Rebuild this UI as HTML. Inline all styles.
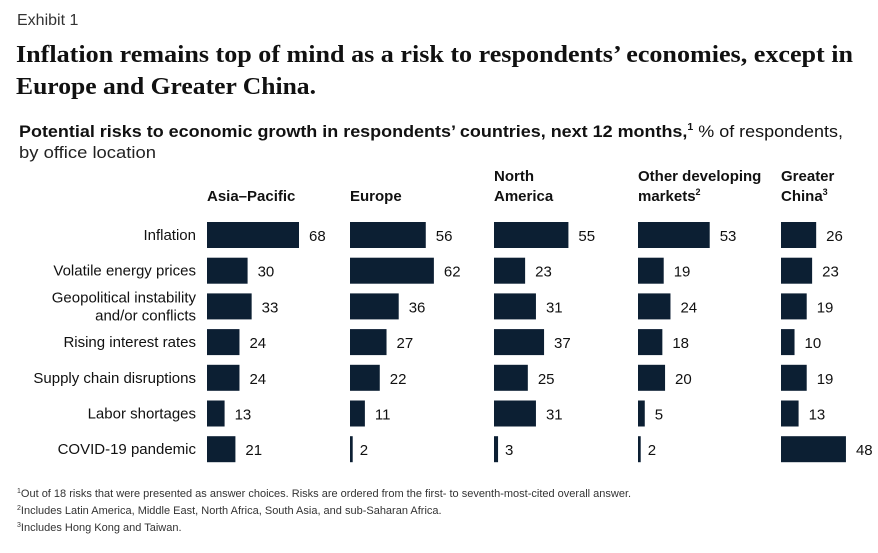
<!DOCTYPE html>
<html><head><meta charset="utf-8"><style>
body{margin:0;background:#fff;}
svg{display:block;font-family:"Liberation Sans",sans-serif;}
</style></head><body>
<svg id="chart" width="878" height="553" viewBox="0 0 878 553">
<text x="17" y="25" font-size="16" fill="#333">Exhibit 1</text>
<text x="16" y="62" font-size="24" font-weight="bold" font-family="Liberation Serif,serif" fill="#111" textLength="837" lengthAdjust="spacingAndGlyphs">Inflation remains top of mind as a risk to respondents’ economies, except in</text>
<text x="16" y="94" font-size="24" font-weight="bold" font-family="Liberation Serif,serif" fill="#111" textLength="300" lengthAdjust="spacingAndGlyphs">Europe and Greater China.</text>
<text x="19" y="137" font-size="17" fill="#111" textLength="824" lengthAdjust="spacingAndGlyphs"><tspan font-weight="bold">Potential risks to economic growth in respondents’ countries, next 12 months,</tspan><tspan font-size="10" dy="-7" font-weight="bold">1</tspan><tspan dy="7"> % of respondents,</tspan></text>
<text x="19" y="158" font-size="17" fill="#222" textLength="137" lengthAdjust="spacingAndGlyphs">by office location</text>
<g id="plot"></g>
<text x="17" y="497" font-size="11" fill="#333"><tspan font-size="7" dy="-4">1</tspan><tspan dy="4">Out of 18 risks that were presented as answer choices. Risks are ordered from the first- to seventh-most-cited overall answer.</tspan></text>
<text x="17" y="514" font-size="11" fill="#333"><tspan font-size="7" dy="-4">2</tspan><tspan dy="4">Includes Latin America, Middle East, North Africa, South Asia, and sub-Saharan Africa.</tspan></text>
<text x="17" y="531" font-size="11" fill="#333"><tspan font-size="7" dy="-4">3</tspan><tspan dy="4">Includes Hong Kong and Taiwan.</tspan></text>
</svg>
<script>
const categories = ["Inflation","Volatile energy prices","Geopolitical instability|and/or conflicts","Rising interest rates","Supply chain disruptions","Labor shortages","COVID-19 pandemic"];
const regions = ["Asia–Pacific","Europe","North|America","Other developing|markets","Greater|China"];
const regionSup = ["","","","2","3"];
const asiaPacific = [68,30,33,24,24,13,21];
const europe = [56,62,36,27,22,11,2];
const northAmerica = [55,23,31,37,25,31,3];
const otherDeveloping = [53,19,24,18,20,5,2];
const greaterChina = [26,23,19,10,19,13,48];
const series = [asiaPacific,europe,northAmerica,otherDeveloping,greaterChina];

const NS="http://www.w3.org/2000/svg";
const g=document.getElementById('plot');
const colX=[207,350,494,638,781];
const xs=v=>v*1.353;
const rowY=i=>235+i*35.7;
function t(x,y,s,opt){const e=document.createElementNS(NS,'text');e.setAttribute('x',x);e.setAttribute('y',y);e.setAttribute('font-size',opt.size||15);e.setAttribute('fill','#111');if(opt.anchor)e.setAttribute('text-anchor',opt.anchor);if(opt.bold)e.setAttribute('font-weight','bold');e.textContent=s;g.appendChild(e);return e;}
categories.forEach((c,i)=>{
  const lines=c.split('|');
  lines.forEach((l,k)=>{
    const y=rowY(i)+5+(k-(lines.length-1)/2)*18;
    const e=t(196,y,l,{anchor:'end'});
    
    
  });
});
regions.forEach((r,j)=>{
  const lines=r.split('|');
  lines.forEach((l,k)=>{
    const y=201-(lines.length-1-k)*20;
    const e=t(colX[j],y,l,{bold:true});
    
    
    if(k===lines.length-1&&regionSup[j]){const s=document.createElementNS(NS,'tspan');s.setAttribute('font-size','9');s.setAttribute('dy','-6');s.textContent=regionSup[j];e.appendChild(s);}
  });
  series[j].forEach((v,i)=>{
    const b=document.createElementNS(NS,'rect');
    b.setAttribute('x',colX[j]);b.setAttribute('y',rowY(i)-13);
    b.setAttribute('width',Math.max(xs(v),2.5));b.setAttribute('height',26);
    b.setAttribute('fill','#0c1f33');
    
    
    g.appendChild(b);
    const e=t(colX[j]+Math.max(xs(v),2.5)+(v<5?7:10),rowY(i)+6,String(v),{});
    
    
  });
});
</script>
</body></html>
